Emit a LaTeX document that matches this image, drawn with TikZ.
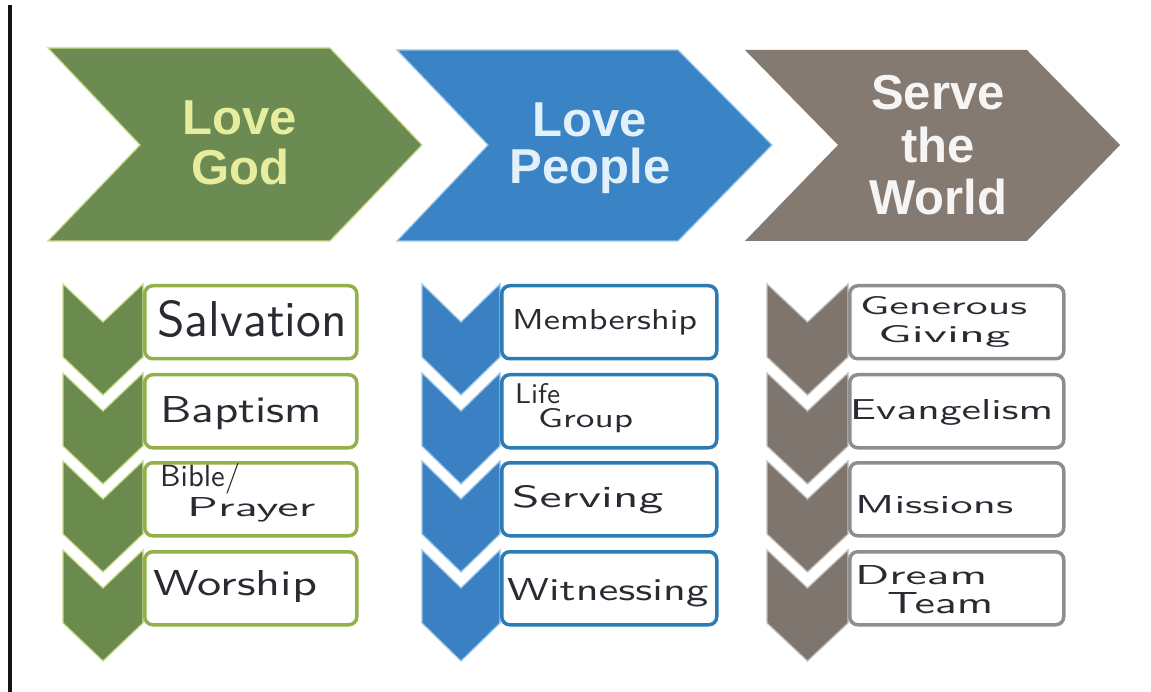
\documentclass[tikz,border=0pt]{standalone}
\usepackage{fontspec}
\usepackage{graphicx}
\newfontfamily\headfont{Liberation Sans}
\definecolor{bigG}{HTML}{6B8B52}
\definecolor{bigB}{HTML}{3A84C6}
\definecolor{bigW}{HTML}{857A72}
\definecolor{txtG}{HTML}{E6EE9E}
\definecolor{txtB}{HTML}{E2F0FA}
\definecolor{txtW}{HTML}{F5F5F5}
\definecolor{smG}{HTML}{6A8A4E}
\definecolor{smB}{HTML}{3A80C2}
\definecolor{smW}{HTML}{7E756F}
\definecolor{edgeG}{HTML}{C9DC8A}
\definecolor{edgeB}{HTML}{9CC8EA}
\definecolor{edgeW}{HTML}{C4C0BC}
\definecolor{boxG}{HTML}{93B04A}
\definecolor{boxB}{HTML}{2C7BB5}
\definecolor{boxW}{HTML}{8E8E8E}
\definecolor{ink}{HTML}{2A2A33}
\newcommand{\hw}[3]{\resizebox{#1pt}{#2pt}{\sffamily #3}}
\newcommand{\smallchev}[4]{%
  \path[#4] (#1,#3) -- ({(#1+#2)/2},{#3+38}) -- (#2,#3) -- (#2,{#3+73})
    -- ({(#1+#2)/2},{#3+111}) -- (#1,{#3+73}) -- cycle;}
\tikzset{
  head/.style={font=\headfont\bfseries\fontsize{49}{50}\selectfont, inner sep=0pt, anchor=base},
  hand/.style={text=ink, inner sep=0pt, anchor=base west},
  itembox/.style={rounded corners=8pt, line width=3.5pt, fill=white, minimum height=73pt, anchor=north west, inner sep=0pt},
  gbox/.style={itembox, draw=boxG, minimum width=212pt},
  bbox/.style={itembox, draw=boxB, minimum width=215pt},
  wbox/.style={itembox, draw=boxW, minimum width=214pt},
}
\begin{document}
\begin{tikzpicture}[x=1pt,y=-1pt]
\useasboundingbox (0,0) rectangle (1151,692);
\fill[white] (0,0) rectangle (1151,692);
% left margin rule
\draw[line width=3.5pt, black!92] (10,5) -- (10,692);

% big chevrons
\fill[bigG, draw=edgeG, line width=1.2pt] (48,48) -- (330,48) -- (422,145) -- (330,241) -- (48,241) -- (140,145) -- cycle;
\fill[bigB, draw=edgeB, line width=1.2pt] (397,50) -- (678,50) -- (772,145) -- (678,241) -- (397,241) -- (488,145) -- cycle;
\fill[bigW] (745,50) -- (1027,50) -- (1120,145) -- (1027,241) -- (745,241) -- (838,145) -- cycle;

\node[head, text=txtG] (lg1) at (240,135) {Love};
\node[head, text=txtG] (lg2) at (240,185) {God};
\node[head, text=txtB] (lp1) at (590,137) {Love};
\node[head, text=txtB] (lp2) at (590,184) {People};
\node[head, text=txtW] (sw1) at (938,110) {Serve};
\node[head, text=txtW] (sw2) at (938,163) {the};
\node[head, text=txtW] (sw3) at (938,215) {World};

% small chevron stacks
\foreach \t in {284,373,461,550}{
  \smallchev{63}{143}{\t}{fill=smG, draw=edgeG, line width=1.2pt}
  \smallchev{422}{500}{\t}{fill=smB, draw=edgeB, line width=1.2pt}
  \smallchev{767}{848}{\t}{fill=smW, draw=edgeW, line width=1.2pt}
}

% boxes
\node[gbox] (g1) at (143,284) {};
\node[gbox] (g2) at (143,373) {};
\node[gbox] (g3) at (143,461) {};
\node[gbox] (g4) at (143,550) {};
\node[bbox] (b1) at (500,284) {};
\node[bbox] (b2) at (500,373) {};
\node[bbox] (b3) at (500,461) {};
\node[bbox] (b4) at (500,550) {};
\node[wbox] (w1) at (848,284) {};
\node[wbox] (w2) at (848,373) {};
\node[wbox] (w3) at (848,461) {};
\node[wbox] (w4) at (848,550) {};

% handwritten labels
\node[hand] (tg1) at (157,337) {\hw{190}{36}{Salvation}};
\node[hand] (tg2) at (160,422) {\hw{162}{26}{Baptism}};
\node[hand] (tg3a) at (160,486) {\hw{80}{23}{Bible/}};
\node[hand] (tg3b) at (187,516) {\hw{128}{19}{Prayer}};
\node[hand] (tg4) at (153,595) {\hw{164}{25}{Worship}};

\node[hand] (tb1) at (512,330) {\hw{185}{20}{Membership}};
\node[hand] (tb2a) at (515,403) {\hw{45}{20}{Life}};
\node[hand] (tb2b) at (538,428) {\hw{95}{19}{Group}};
\node[hand] (tb3) at (512,507) {\hw{151}{22}{Serving}};
\node[hand] (tb4) at (507,600) {\hw{201}{22}{Witnessing}};

\node[hand] (tw1a) at (860,315) {\hw{167}{18}{Generous}};
\node[hand] (tw1b) at (878,343) {\hw{132}{17}{Giving}};
\node[hand] (tw2) at (850,420) {\hw{203}{20}{Evangelism}};
\node[hand] (tw3) at (855,513) {\hw{158}{18}{Missions}};
\node[hand] (tw4a) at (855,584) {\hw{132}{19}{Dream}};
\node[hand] (tw4b) at (887,613) {\hw{106}{21}{Team}};
\end{tikzpicture}
\end{document}
